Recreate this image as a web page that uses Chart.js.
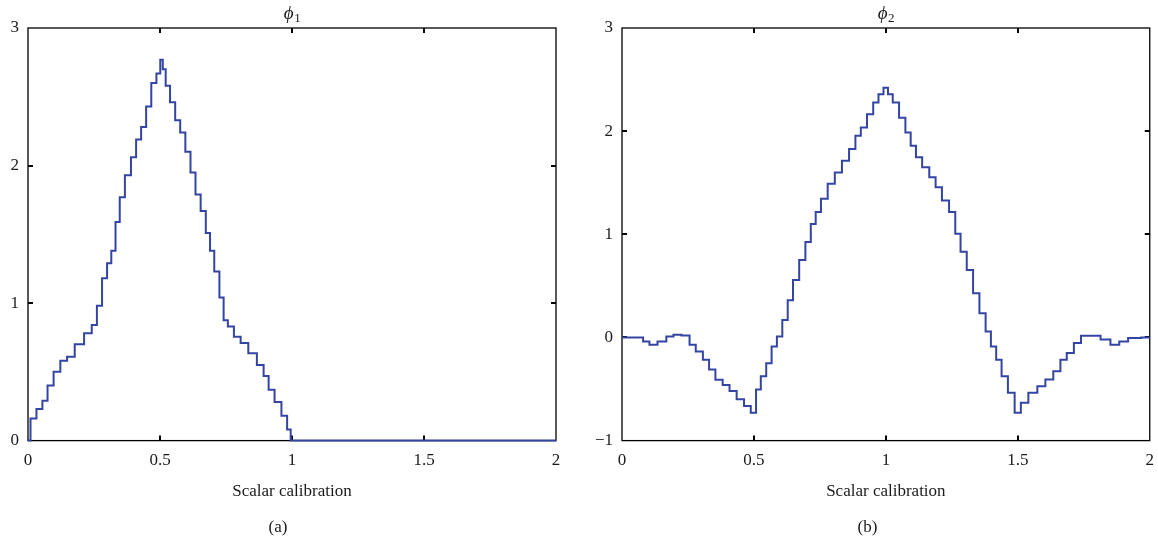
<!DOCTYPE html>
<html>
<head>
<meta charset="utf-8">
<script src="https://cdn.jsdelivr.net/npm/chart.js@4.4.0/dist/chart.umd.min.js"></script>
<style>
  html, body { margin: 0; padding: 0; background: #fff; overflow: hidden; }
  #wrap { position: relative; width: 1158px; height: 546px; overflow: hidden; }
  .panel { position: absolute; top: 0; height: 546px; }
</style>
</head>
<body>
<div id="wrap">
  <div class="panel" style="left:0;width:579px"><canvas id="chartA"></canvas></div>
  <div class="panel" style="left:579px;width:585px"><canvas id="chartB"></canvas></div>
</div>
<script>
/* --------------- Data --------------- */
const phi1X = [0, 0.019, 0.045, 0.064, 0.084, 0.11, 0.135, 0.161, 0.193, 0.232, 0.251, 0.271, 0.29, 0.309,
  0.322, 0.341, 0.354, 0.38, 0.40, 0.419, 0.438, 0.457, 0.477, 0.496, 0.506, 0.515, 0.528, 0.548, 0.567,
  0.586, 0.606, 0.625, 0.644, 0.664, 0.683, 0.696, 0.715, 0.735, 0.747, 0.767, 0.793, 0.818, 0.851,
  0.883, 0.902, 0.921, 0.947, 0.973, 0.99, 1.0, 2.0];
const phi1Y = [0, 0.16, 0.23, 0.29, 0.40, 0.50, 0.58, 0.61, 0.70, 0.78, 0.84, 0.98, 1.18, 1.29,
  1.38, 1.59, 1.77, 1.93, 2.06, 2.19, 2.28, 2.43, 2.60, 2.67, 2.77, 2.70, 2.58, 2.46, 2.33,
  2.24, 2.10, 1.95, 1.79, 1.67, 1.51, 1.38, 1.23, 1.04, 0.875, 0.83, 0.755, 0.71, 0.635,
  0.55, 0.47, 0.37, 0.28, 0.18, 0.08, 0, 0];

const phi2X = [0, 0.07, 0.09, 0.118, 0.151, 0.185, 0.205, 0.246, 0.266, 0.293, 0.32, 0.34, 0.368, 0.395,
  0.42, 0.449, 0.476, 0.5, 0.516, 0.536, 0.557, 0.577, 0.597, 0.618, 0.638, 0.658, 0.685, 0.705, 0.726,
  0.742, 0.766, 0.793, 0.82, 0.847, 0.874, 0.895, 0.915, 0.942, 0.962, 0.982, 1.0, 1.016, 1.036, 1.064,
  1.084, 1.104, 1.124, 1.151, 1.178, 1.199, 1.226, 1.253, 1.273, 1.293, 1.32, 1.341, 1.368, 1.388,
  1.408, 1.428, 1.449, 1.476, 1.5, 1.523, 1.557, 1.591, 1.618, 1.651, 1.672, 1.699, 1.726, 1.753,
  1.793, 1.834, 1.868, 1.901, 1.935, 2.0];
const phi2Y = [0, 0, -0.04, -0.07, -0.04, 0.01, 0.025, 0.02, -0.07, -0.135, -0.215, -0.31, -0.41, -0.46,
  -0.52, -0.60, -0.665, -0.73, -0.505, -0.376, -0.25, -0.087, 0.01, 0.17, 0.36, 0.556, 0.75, 0.926, 1.10,
  1.215, 1.344, 1.49, 1.60, 1.714, 1.826, 1.955, 2.035, 2.164, 2.277, 2.357, 2.42, 2.357, 2.277, 2.13,
  1.987, 1.858, 1.746, 1.65, 1.553, 1.457, 1.328, 1.215, 1.006, 0.83, 0.653, 0.428, 0.235, 0.058,
  -0.087, -0.215, -0.376, -0.537, -0.73, -0.633, -0.537, -0.473, -0.408, -0.328, -0.215, -0.151, -0.055, 0.016,
  0.016, -0.02, -0.07, -0.04, -0.006, 0];

const xTickStep = 0.5;
const xLabel = "Scalar calibration";
const panelTags = ["(a)", "(b)"];
const panelSubs = ["1", "2"];

/* --------------- Look --------------- */
const lineColor = "#3444a2";
const textColor = "#1a1a1a";
const serif = "'Liberation Serif', 'Times New Roman', serif";
const fmt = v => String(v).replace("-", "\u2212");

/* --------------- Frame, inward ticks and phi title --------------- */
const frameTicks = {
  id: "frameTicks",
  beforeDatasetsDraw(chart, args, opts) {
    const { ctx, chartArea: a, scales: { x, y } } = chart;
    const len = 5;
    ctx.save();
    ctx.strokeStyle = "#000";
    ctx.lineWidth = 1.3;
    ctx.strokeRect(a.left, a.top, a.right - a.left, a.bottom - a.top);
    ctx.lineWidth = 2;
    ctx.beginPath();
    x.ticks.forEach(t => {
      if (t.value <= x.min || t.value >= x.max) return;
      const px = Math.round(x.getPixelForValue(t.value));
      ctx.moveTo(px, a.bottom); ctx.lineTo(px, a.bottom - len);
      ctx.moveTo(px, a.top); ctx.lineTo(px, a.top + len);
    });
    y.ticks.forEach(t => {
      if (t.value <= y.min || t.value >= y.max) return;
      const py = Math.round(y.getPixelForValue(t.value));
      ctx.moveTo(a.left, py); ctx.lineTo(a.left + len, py);
      ctx.moveTo(a.right, py); ctx.lineTo(a.right - len, py);
    });
    ctx.stroke();

    // title: italic phi with a subscript
    const cx = (a.left + a.right) / 2;
    ctx.fillStyle = textColor;
    ctx.textBaseline = "alphabetic";
    ctx.font = "italic 19px " + serif;
    const w1 = ctx.measureText("\u03D5").width;
    ctx.font = "13px " + serif;
    const w2 = ctx.measureText(opts.sub).width;
    const start = cx - (w1 + w2) / 2;
    ctx.font = "italic 19px " + serif;
    ctx.fillText("\u03D5", start, 19);
    ctx.font = "13px " + serif;
    ctx.fillText(opts.sub, start + w1 + 0.5, 22);
    ctx.restore();
  }
};

function makeChart(canvasId, xs, ys, yMin, yMax, yWidth, rightPad, idx) {
  return new Chart(document.getElementById(canvasId), {
    type: "line",
    plugins: [frameTicks],
    data: {
      datasets: [{
        data: xs.map((v, i) => ({ x: v, y: ys[i] })),
        borderColor: lineColor,
        borderWidth: 2,
        pointRadius: 0,
        stepped: "middle",
        fill: false,
        clip: false,
      }],
    },
    options: {
      responsive: true,
      maintainAspectRatio: false,
      animation: false,
      layout: { padding: { top: 28, right: rightPad, left: 0, bottom: 0 } },
      plugins: {
        legend: { display: false },
        tooltip: { enabled: false },
        frameTicks: { sub: panelSubs[idx] },
        subtitle: {
          display: true,
          position: "bottom",
          text: panelTags[idx],
          color: textColor,
          font: { family: serif, size: 17, weight: "normal" },
          padding: { top: 0, bottom: 8 },
        },
      },
      scales: {
        x: {
          type: "linear",
          min: 0,
          max: 2,
          grid: { display: false, drawTicks: false },
          border: { display: false },
          ticks: {
            stepSize: xTickStep,
            padding: 10,
            color: textColor,
            font: { family: serif, size: 17 },
            maxRotation: 0,
            callback: fmt,
          },
          title: {
            display: true,
            text: xLabel,
            color: textColor,
            font: { family: serif, size: 17 },
            padding: { top: 0, bottom: 16 },
          },
          afterFit(s) { s.height = 77; },
        },
        y: {
          min: yMin,
          max: yMax,
          grid: { display: false, drawTicks: false },
          border: { display: false },
          ticks: {
            stepSize: 1,
            padding: 9,
            color: textColor,
            font: { family: serif, size: 17 },
            callback: fmt,
          },
          afterFit(s) { s.width = yWidth; },
        },
      },
    },
  });
}

makeChart("chartA", phi1X, phi1Y, 0, 3, 28, 23, 0);
makeChart("chartB", phi2X, phi2Y, -1, 3, 43, 8, 1);
</script>
</body>
</html>
